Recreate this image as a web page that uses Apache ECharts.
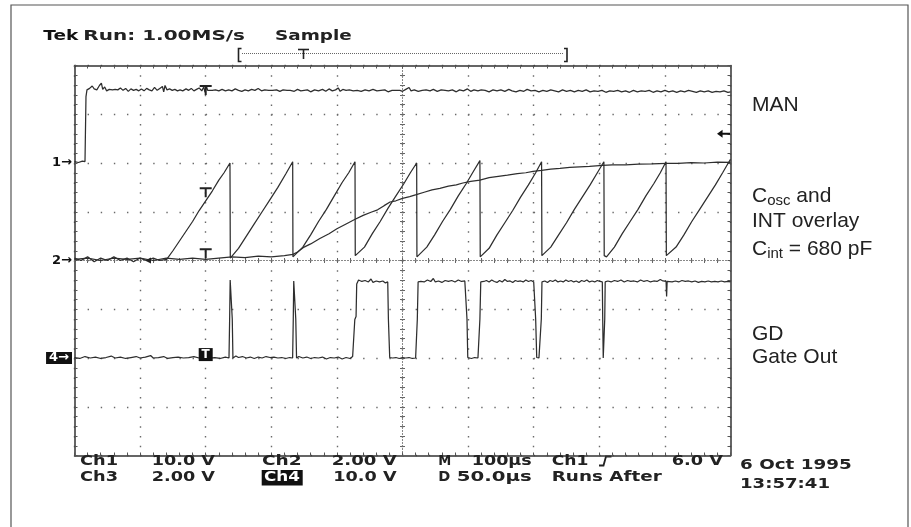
<!DOCTYPE html>
<html><head><meta charset="utf-8">
<script src="https://cdn.jsdelivr.net/npm/echarts@6/dist/echarts.min.js"></script>
<style>html,body{margin:0;padding:0;background:#fff}#c{width:911px;height:527px}</style>
</head><body><div id="c"></div>
<script>
// ---- Data (time in µs from left edge, values in volts of each channel) ----
const manTrace = [[0,0.3],[6,0.1],[12,0.4],[16,0.3],[17.5,13.6],[19,15.0],[23,15.3],[27,15.8],[30,15.2],[34,15.0],[38,15.9],[41,16.4],[43,15.1],[46,15.6],[49,14.8],[53,15.1],[58,15.0],[62,15.1],[66,15.0],[70,15.4],[74,14.9],[78,15.3],[82,14.7],[86,15.2],[90,14.9],[94,15.1],[98,14.8],[102,15.2],[106,14.8],[110,15.3],[114,15.0],[118,14.8],[122,15.5],[126,14.9],[130,15.3],[134,15.7],[136,14.6],[138,15.9],[141,15.0],[145,15.2],[149,14.9],[153,15.1],[157,14.8],[161,15.0],[165,14.8],[170,15.2],[174,14.9],[178,15.3],[182,14.8],[186,15.1],[190,15.4],[194,14.8],[197,15.6],[199,14.5],[201,15.8],[203,14.9],[206,15.2],[210,14.9],[215,15.0],[220,14.8],[225,15.1],[230,14.8],[235,15.0],[240,14.8],[245,15.2],[250,14.9],[255,14.7],[260,15.0],[265,14.8],[270,15.1],[275,14.9],[280,15.3],[285,14.8],[290,15.0],[296,14.9],[302,14.9],[308,15.0],[313,14.7],[318,15.0],[324,14.9],[329,14.9],[335,14.7],[340,15.1],[345,14.8],[350,14.9],[355,15.0],[360,14.6],[366,15.0],[372,14.8],[378,15.1],[383,14.7],[388,15.2],[393,14.8],[398,15.0],[402,15.4],[405,14.7],[409,15.1],[414,14.9],[419,15.0],[425,14.8],[431,14.9],[437,14.7],[443,15.0],[449,14.8],[455,15.1],[461,14.8],[467,14.9],[473,15.0],[478,14.6],[484,14.9],[490,14.9],[496,14.9],[500,14.7],[505,15.1],[510,15.5],[513,14.8],[518,15.0],[524,14.7],[530,14.9],[536,15.0],[542,14.8],[547,15.1],[553,14.7],[559,15.0],[565,14.9],[570,14.8],[576,15.0],[582,14.6],[587,15.0],[593,14.8],[599,15.2],[604,14.7],[609,15.0],[615,14.8],[620,15.0],[626,14.9],[632,14.6],[638,15.0],[644,14.8],[650,15.0],[656,14.7],[662,15.1],[667,14.8],[673,14.6],[679,14.9],[685,14.7],[690,15.1],[696,14.8],[702,14.9],[708,14.6],[714,14.9],[720,14.7],[726,15.0],[732,14.8],[738,14.6],[744,15.0],[750,14.7],[756,14.9],[762,14.6],[768,14.9],[774,14.7],[780,15.0],[786,14.6],[792,14.8],[798,14.7],[804,14.9],[810,14.5],[816,14.8],[822,14.7],[828,14.9],[834,14.6],[840,14.8],[846,14.5],[852,14.9],[858,14.6],[864,14.8],[870,14.7],[876,14.9],[882,14.5],[888,14.8],[894,14.6],[900,14.9],[906,14.6],[912,14.8],[918,14.5],[924,14.8],[930,14.6],[936,14.9],[942,14.7],[948,14.5],[954,14.8],[960,14.6],[966,14.8],[972,14.5],[978,14.7],[984,14.6],[990,14.8],[996,14.5],[1000,14.6]];

const oscTrace = [[0,0.1],[10,0.0],[20,0.15],[30,-0.05],[40,0.1],[50,0.0],[60,0.15],[70,0.0],[80,0.1],[90,-0.05],[100,0.1],[110,0.0],[120,0.1],[130,0.0],[140.5,0.05],
[150,0.4],[160,0.8],[170,1.2],[180,1.6],[190,2.05],[200,2.45],[210,2.85],[220,3.3],[228,3.6],[237,4.0],[237.5,0.1],[239.6,0.05],
[250,0.5],[262,1.0],[274,1.5],[286,2.0],[298,2.5],[310,3.0],[322,3.55],[332.6,4.05],[333,0.15],[336,0.1],
[348,0.55],[360,1.05],[372,1.6],[384,2.1],[396,2.65],[408,3.2],[418,3.6],[427.6,4.05],[428,0.2],[430,0.15],
[442,0.55],[454,1.1],[466,1.6],[478,2.15],[490,2.65],[502,3.15],[512,3.6],[521.6,4.0],[522,0.15],[525,0.1],
[537,0.55],[549,1.05],[561,1.6],[573,2.1],[585,2.65],[597,3.15],[608,3.65],[618,4.1],[618.5,0.15],[620.7,0.1],
[632,0.5],[644,1.05],[656,1.55],[668,2.05],[680,2.6],[692,3.1],[703,3.6],[712,4.05],[712.5,0.2],[714.6,0.15],
[726,0.55],[738,1.05],[750,1.55],[762,2.1],[774,2.6],[786,3.1],[797,3.6],[807,4.05],[807.5,0.2],[811,0.15],
[823,0.55],[835,1.1],[847,1.6],[859,2.1],[871,2.65],[883,3.15],[893,3.6],[901.7,4.05],[902.2,0.2],[905,0.15],
[917,0.55],[929,1.05],[941,1.6],[953,2.1],[965,2.6],[977,3.1],[988,3.6],[996.6,4.0],[1000,4.15]];

const intTrace = [[0,0.05],[20,0.1],[40,0.0],[60,0.1],[80,0.05],[100,0.1],[120,0.0],[140,0.1],[160,0.05],[180,0.1],[200,0.05],[220,0.1],[240,0.15],[260,0.12],[280,0.18],[300,0.15],[320,0.2],[333,0.25],[340,0.35],[350,0.55],[360,0.68],[374,0.9],[388,1.1],[400,1.3],[414,1.5],[427,1.68],[440,1.85],[452,1.98],[462,2.08],[472,2.25],[481,2.4],[490,2.45],[500,2.55],[511,2.62],[521,2.7],[533,2.8],[545,2.9],[557,2.96],[570,3.05],[582,3.1],[592,3.18],[604,3.25],[618,3.3],[632,3.4],[646,3.45],[660,3.5],[675,3.56],[688,3.6],[699,3.66],[712,3.7],[726,3.75],[740,3.78],[755,3.82],[770,3.84],[785,3.86],[805,3.9],[820,3.92],[840,3.92],[860,3.95],[880,3.96],[903,3.98],[920,3.98],[940,4.02],[960,4.0],[980,4.04],[1000,4.03]];

const gateTrace = [[0,0.1],[8,-0.1],[16,0.3],[24,0.0],[32,0.2],[40,-0.1],[48,0.1],[56,0.4],[62,0.0],[70,0.2],[78,-0.1],[86,0.1],[94,0.3],[100,0.0],[108,0.2],[116,0.5],[120,0.0],[128,0.1],[136,0.3],[142,-0.1],[150,0.1],[158,0.2],[166,0.0],[174,0.1],[182,0.3],[190,0.0],[198,0.1],[206,0.0],[214,0.1],[222,-0.1],[230,0.2],[235.5,0.0],[236.5,8.0],[237.3,16.0],[239.5,16.0],[240.5,8.0],[241.5,0.0],[246,0.4],[250,0.1],[256,0.3],[262,0.0],[268,0.2],[274,-0.1],[280,0.2],[286,0.0],[292,0.3],[298,0.1],[304,0.2],[310,0.0],[316,0.1],[322,-0.1],[328,0.1],[332.5,0.0],[333.5,8.0],[334.2,15.8],[336.5,15.8],[337.3,8.0],[338.5,0.0],[342,0.3],[348,0.0],[354,0.2],[360,-0.1],[366,0.1],[372,0.0],[378,0.2],[384,-0.2],[390,0.1],[396,0.0],[402,0.2],[408,-0.2],[414,0.1],[420,-0.1],[424,0.3],[426.5,0.4],[427.3,7.9],[429.2,8.5],[430.2,15.2],[433,16.0],[438,15.7],[443,15.9],[448,15.6],[452,16.2],[455,15.5],[460,15.8],[465,15.6],[470,15.8],[474,15.4],[477.5,15.6],[478.5,8.0],[480.5,0.1],[485,0.0],[490,0.1],[495,-0.1],[500,0.1],[505,0.0],[510,0.1],[515,-0.1],[520,0.0],[521.8,0.1],[522.6,8.0],[523.8,15.6],[528,15.7],[533,15.6],[538,16.0],[543,15.7],[547,16.3],[550,15.6],[555,15.8],[560,15.5],[565,15.9],[570,15.7],[575,15.9],[580,15.6],[585,16.0],[590,15.7],[595,15.8],[597.8,15.6],[598.3,8.0],[599.5,0.1],[605,-0.1],[610,0.1],[615,0.0],[617,0.1],[618,8.0],[619.3,15.6],[624,15.7],[628,15.9],[632,15.6],[636,16.0],[640,15.7],[644,15.5],[648,15.9],[652,15.6],[656,16.1],[660,15.7],[664,15.8],[668,15.5],[672,15.9],[676,15.7],[680,15.8],[684,15.6],[688,16.0],[692,15.7],[696,15.9],[700,15.6],[702,15.6],[703,8.0],[704.6,0.1],[708,0.0],[710.6,0.1],[711.6,8.0],[712.6,15.6],[717,15.8],[721,15.5],[725,15.9],[729,15.7],[733,16.0],[737,15.6],[741,15.8],[745,15.6],[749,16.0],[753,15.7],[757,15.9],[761,15.6],[765,15.8],[769,15.5],[773,15.9],[777,15.7],[781,16.0],[785,15.6],[789,15.8],[793,15.6],[797,15.9],[801,15.7],[804.6,15.6],[805.2,8.0],[806,0.0],[807.5,0.0],[808.3,8.0],[809,15.6],[813,15.8],[818,15.6],[823,15.9],[828,15.7],[833,16.0],[838,15.6],[843,15.9],[848,15.7],[853,15.8],[858,15.6],[863,16.0],[868,15.7],[873,15.9],[878,15.6],[883,15.8],[888,15.7],[893,16.1],[897,15.8],[900,16.0],[901.8,15.7],[902.6,12.6],[903.4,15.7],[906,15.9],[911,15.6],[916,15.8],[921,15.6],[926,15.9],[931,15.7],[936,15.8],[941,15.6],[946,15.8],[951,15.5],[956,15.7],[961,15.6],[966,15.8],[971,15.6],[976,15.7],[981,15.6],[986,15.8],[991,15.6],[996,15.7],[1000,15.6]];

// trigger point (µs), trigger level (Ch1 volts)
const triggerTime = 200;
const triggerLevel = 6.0;

// channel scale ranges (volts at bottom/top of screen)
const ch1Range = [-60, 20];
const ch23Range = [-8, 8];
const ch4Range = [-20, 60];
const timeRange = [0, 1000];

// ---- Presentation ----
const traceColor = '#2e2e2e';
const gridDot = '#6a6a6a';
const edge = '#333';
const tPath = 'path://M0,0L12,0L12,2L7,2L7,10L5,10L5,2L0,2Z';
const arrowPath = 'path://M0,4L6,0L6,3L14,3L14,5L6,5L6,8Z';
const tekFont = '"DejaVu Sans", sans-serif';
const sansFont = '"Liberation Sans", Arial, sans-serif';

function gridX(pos, extra) {
  return Object.assign({
    type: 'value', min: -5, max: 5, interval: 1, position: pos,
    axisLine: { show: true, onZero: false, lineStyle: { color: edge, width: 1.5 } },
    axisTick: { show: true, inside: true, length: 3, lineStyle: { color: '#555' } },
    minorTick: { show: true, splitNumber: 5, length: 3, lineStyle: { color: '#555' } },
    axisLabel: { show: false },
    splitLine: { show: false }
  }, extra || {});
}
function gridY(pos, extra) {
  return Object.assign({
    type: 'value', min: -4, max: 4, interval: 1, position: pos,
    axisLine: { show: true, onZero: false, lineStyle: { color: edge, width: 1.5 } },
    axisTick: { show: true, inside: true, length: 3, lineStyle: { color: '#555' } },
    minorTick: { show: true, splitNumber: 5, length: 3, lineStyle: { color: '#555' } },
    axisLabel: { show: false },
    splitLine: { show: false }
  }, extra || {});
}
function centerAxis(isX, inside) {
  const base = isX ? gridX('bottom') : gridY('left');
  base.axisLine = { show: true, onZero: true, onZeroAxisIndex: 0, lineStyle: { color: '#888', width: 1, type: [1, 2] } };
  base.axisTick = { show: true, inside: inside, length: 2.5, lineStyle: { color: '#666' } };
  base.minorTick = { show: true, splitNumber: 5, length: 2.5, lineStyle: { color: '#666' } };
  return base;
}
function hidden(range) {
  return { type: 'value', min: range[0], max: range[1], show: false, axisLine: { onZero: false } };
}

const markerLabel = (txt, boxed) => ({
  show: true, position: 'left', distance: 2, formatter: txt,
  fontFamily: tekFont, fontWeight: 'bold', fontSize: 13,
  color: boxed ? '#fff' : '#111',
  backgroundColor: boxed ? '#111' : 'transparent',
  padding: boxed ? [0, 3, 0, 3] : 0, lineHeight: 12
});
const invisible = { color: 'rgba(0,0,0,0)' };

function trace(name, data, yIdx, marks) {
  return {
    name, type: 'line', data, xAxisIndex: 4, yAxisIndex: yIdx,
    symbol: 'none', clip: true, silent: true, animation: false,
    lineStyle: { color: traceColor, width: 1.25 },
    markPoint: { silent: true, animation: false, data: marks }
  };
}

// text fitting via canvas measure + scaleX (Tek wide font look)
const mctx = document.createElement('canvas').getContext('2d');
function fitText(str, x, y, w, size, color, weight) {
  const font = (weight || 'bold') + ' ' + size + 'px ' + tekFont;
  mctx.font = font;
  const mw = mctx.measureText(str).width;
  return { type: 'text', x: x, y: y, scaleX: w / mw, silent: true, z: 20,
    style: { text: str, font: font, fill: color || '#222', align: 'left', verticalAlign: 'middle', textAlign: 'left', textVerticalAlign: 'middle' } };
}
function sansText(str, x, y) {
  return { type: 'text', x: x, y: y, silent: true, z: 20,
    style: { text: str, font: '21px ' + sansFont, fill: '#222', align: 'left', verticalAlign: 'middle' } };
}
function subText(main, sub, rest, x, y) {
  return { type: 'text', x: x, y: y, silent: true, z: 20,
    style: { text: '{a|' + main + '}{b|' + sub + '}{a|' + rest + '}', align: 'left', verticalAlign: 'middle',
      rich: {
        a: { fontSize: 21, fontFamily: sansFont, lineHeight: 24, fill: '#222', color: '#222' },
        b: { fontSize: 15, fontFamily: sansFont, lineHeight: 13, verticalAlign: 'bottom', fill: '#222', color: '#222' }
      } } };
}

const rowA = 461, rowB = 477;
const graphics = [
  { type: 'rect', silent: true, shape: { x: 11, y: 5, width: 897, height: 540 }, style: { fill: 'none', stroke: '#555', lineWidth: 1.2 } },
  fitText('Tek', 43.3, 36.7, 35, 14, '#111', 'bold'),
  fitText('Run: 1.00MS/s', 83.3, 36.7, 161.7, 14, '#222', 'bold'),
  fitText('Sample', 275, 36.7, 76.7, 14, '#222', 'bold'),
  { type: 'polyline', silent: true, shape: { points: [[241.5, 48.5], [238.5, 48.5], [238.5, 61.5], [241.5, 61.5]] }, style: { stroke: '#222', lineWidth: 1.6, fill: null } },
  { type: 'polyline', silent: true, shape: { points: [[564, 48.5], [567, 48.5], [567, 61.5], [564, 61.5]] }, style: { stroke: '#222', lineWidth: 1.6, fill: null } },
  { type: 'line', silent: true, shape: { x1: 242, y1: 53.5, x2: 564, y2: 53.5 }, style: { stroke: '#666', lineWidth: 1, lineDash: [1, 1] } },
  { type: 'line', silent: true, shape: { x1: 298, y1: 49.5, x2: 309, y2: 49.5 }, style: { stroke: '#222', lineWidth: 1.6 } },
  { type: 'line', silent: true, shape: { x1: 303.5, y1: 49.5, x2: 303.5, y2: 59 }, style: { stroke: '#222', lineWidth: 1.6 } },
  // bottom status rows
  fitText('Ch1', 80, rowA, 38, 14),
  fitText('10.0 V', 151.7, rowA, 63.3, 14),
  fitText('Ch2', 262, rowA, 39.7, 14),
  fitText('2.00 V', 331.7, rowA, 65, 14),
  fitText('M', 438.3, rowA, 13, 14),
  fitText('100µs', 471.7, rowA, 60, 14),
  fitText('Ch1', 551.7, rowA, 36.7, 14),
  { type: 'polyline', silent: true, shape: { points: [[599, 465.5], [603.5, 465.5], [606, 456.5], [611.5, 456.5]] }, style: { stroke: '#222', lineWidth: 1.8, fill: null } },
  fitText('6.0 V', 671.7, rowA, 51.3, 14),
  fitText('6 Oct 1995', 740, 465.3, 111.7, 14),
  fitText('Ch3', 80, rowB, 38, 14),
  fitText('2.00 V', 151.7, rowB, 63.3, 14),
  { type: 'rect', silent: true, shape: { x: 261.7, y: 470, width: 41, height: 15.5 }, style: { fill: '#111' } },
  fitText('Ch4', 264, rowB, 36, 14, '#fff'),
  fitText('10.0 V', 333.3, rowB, 63.3, 14),
  fitText('D', 438.3, rowB, 12, 14),
  fitText('50.0µs', 456.7, rowB, 75, 14),
  fitText('Runs After', 551.7, rowB, 110, 14),
  fitText('13:57:41', 740, 484.2, 90, 14),
  // right annotations
  sansText('MAN', 752, 105.4),
  subText('C', 'osc', ' and', 752, 196),
  sansText('INT overlay', 752, 221),
  subText('C', 'int', ' = 680 pF', 752, 249.4),
  sansText('GD', 752, 334.4),
  sansText('Gate Out', 752, 357.7)
];

const option = {
  animation: false,
  backgroundColor: '#fff',
  grid: { left: 74.5, top: 65.5, width: 656, height: 390, show: false, containLabel: false },
  xAxis: [
    gridX('bottom', { splitLine: { show: true, lineStyle: { color: gridDot, width: 1.4, type: [1.4, 8.35] } } }),
    gridX('top'),
    centerAxis(true, true),
    centerAxis(true, false),
    hidden(timeRange)
  ],
  yAxis: [
    gridY('left', { splitLine: { show: true, lineStyle: { color: gridDot, width: 1.4, type: [1.4, 11.72] } } }),
    gridY('right'),
    centerAxis(false, true),
    centerAxis(false, false),
    hidden(ch1Range),
    hidden(ch23Range),
    hidden(ch4Range)
  ],
  series: [
    trace('MAN', manTrace, 4, [
      { coord: [timeRange[0], 0], symbol: 'rect', symbolSize: 1, itemStyle: invisible, label: markerLabel('1→') },
      { coord: [triggerTime, 15.0], symbol: tPath, symbolSize: [12, 10], itemStyle: { color: '#222' }, label: { show: false } },
      { coord: [timeRange[1], triggerLevel], symbol: arrowPath, symbolSize: [13, 8], symbolOffset: [-7, 0], itemStyle: { color: '#111' }, label: { show: false } }
    ]),
    trace('Cosc', oscTrace, 5, [
      { coord: [timeRange[0], 0], symbol: 'rect', symbolSize: 1, itemStyle: invisible, label: markerLabel('2→') },
      { coord: [triggerTime, 2.8], symbol: tPath, symbolSize: [12, 10], itemStyle: { color: '#222' }, label: { show: false } },
      { coord: [triggerTime, 0.3], symbol: tPath, symbolSize: [12, 10], itemStyle: { color: '#222' }, label: { show: false } },
      { coord: [112, 0], symbol: 'triangle', symbolRotate: 90, symbolSize: [6, 6], itemStyle: { color: '#222' }, label: { show: false } }
    ]),
    trace('INT', intTrace, 5, []),
    trace('Gate Out', gateTrace, 6, [
      { coord: [timeRange[0], 0], symbol: 'rect', symbolSize: 1, itemStyle: invisible, label: markerLabel('4→', true) },
      { coord: [triggerTime, 0.7], symbol: 'rect', symbolSize: [14, 13], itemStyle: { color: '#111' },
        label: { show: true, position: 'inside', formatter: 'T', color: '#fff', fontFamily: tekFont, fontWeight: 'bold', fontSize: 12 } }
    ])
  ],
  graphic: graphics
};

const chart = echarts.init(document.getElementById('c'), null, { renderer: 'canvas' });
chart.setOption(option);
</script></body></html>
